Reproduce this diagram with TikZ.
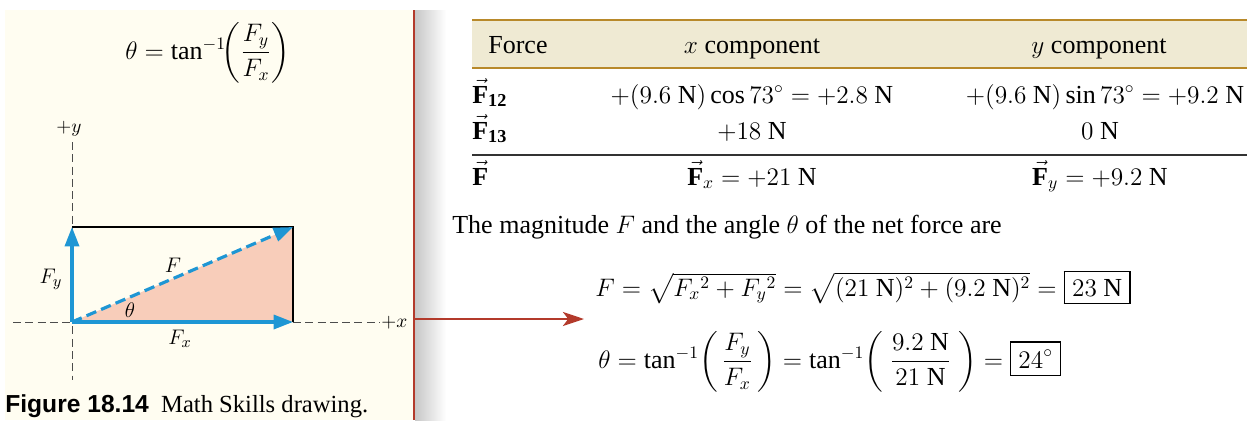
\documentclass[tikz,border=0pt]{standalone}
\usepackage{amsmath}
\usepackage{fontspec}
\setmainfont{Liberation Serif}
\newfontfamily\capfont{Liberation Sans}
\usetikzlibrary{positioning,arrows.meta}

\definecolor{panelcream}{HTML}{FFFDF1}
\definecolor{dividerred}{HTML}{B33A2B}
\definecolor{vecblue}{HTML}{1E96D4}
\definecolor{trianglepink}{HTML}{F8CDBA}
\definecolor{headbeige}{HTML}{EFEAD3}
\definecolor{headgold}{HTML}{B8892A}

\newcommand{\vF}{\vec{\mathbf{F}}}
\newcommand{\unitN}{\ \mathrm{N}}

\tikzset{
  every node/.style={font=\fontsize{14.8}{17.5}\selectfont, inner sep=0pt},
  vecarrow/.style={vecblue, line width=1.8pt, -{Triangle[length=11pt,width=8pt]}},
  axisline/.style={black!70, line width=0.5pt, dash pattern=on 4.5pt off 2.5pt},
  cell/.style={anchor=base},
  goldrule/.style={headgold, line width=1.4pt},
  smalllbl/.style={font=\fontsize{13}{15}\selectfont},
}

\begin{document}
\begin{tikzpicture}[x=0.02cm, y=-0.02cm, line cap=butt, line join=miter]
\useasboundingbox (0,0) rectangle (1252,420);

% left panel and divider
\fill[panelcream] (5,10) rectangle (413,420);
\shade[left color=black!22, right color=white] (415,10) rectangle (446,420);
\draw[dividerred, line width=1.7pt] (414,10) -- (414,420);

% formula on top of the panel
\node[anchor=base west] (topEqn) at (125,59)
  {$\theta = \tan^{-1}\!\biggl(\dfrac{F_y}{F_x}\biggr)$};

% vector drawing
\coordinate (O) at (72,322);
\coordinate (Px) at (293,322);
\coordinate (Py) at (72,227);
\coordinate (P) at (293,227);

\fill[trianglepink] (O) -- (Px) -- (P) -- cycle;
\draw[black, line width=0.6pt] (Py) -- (P) -- (Px);

% axes
\draw[axisline] (72,142) -- (72,380);
\draw[axisline] (13,322) -- (O);
\draw[axisline] (Px) -- (380,322);
\node (lblPlusY) at (69,129) {\fontsize{11}{13}\selectfont $+y$};
\node[anchor=west] (lblPlusX) at (381,323) {\fontsize{11}{13}\selectfont $+x$};

% components and resultant
\draw[vecarrow] (O) -- (Py);
\draw[vecarrow] (O) -- (Px);
\draw[vecarrow, dash pattern=on 6pt off 3pt] (O) -- (P);

\node[smalllbl] (lblFy) at (51,279) {$F_y$};
\node[smalllbl] (lblF) at (173,265) {$F$};
\node[smalllbl] (lblTheta) at (130,310) {$\theta$};
\node[smalllbl] (lblFx) at (180,339) {$F_x$};

% caption
\node[anchor=base west, font=\fontsize{14}{16}\selectfont] (caption) at (5,412)
  {{\capfont\bfseries Figure 18.14}\enspace Math Skills drawing.};

% table header
\fill[headbeige] (472,20) rectangle (1247,68);
\draw[goldrule] (472,20) -- (1247,20);
\draw[goldrule] (472,68) -- (1247,68);
\node[cell, anchor=base west] (hdrForce) at (488,53) {Force};
\node[cell] (hdrX) at (752,53) {$x$ component};
\node[cell] (hdrY) at (1099,53) {$y$ component};

% table rows
\node[cell, anchor=base west] (rowAlbl) at (472,103) {$\vF_{\mathbf{12}}$};
\node[cell] (rowAx) at (752,103) {$+(9.6\unitN)\cos 73^\circ = +2.8\unitN$};
\node[cell] (rowAy) at (1105,103) {$+(9.6\unitN)\sin 73^\circ = +9.2\unitN$};

\node[cell, anchor=base west] (rowBlbl) at (472,139) {$\vF_{\mathbf{13}}$};
\node[cell] (rowBx) at (752,139) {$+18\unitN$};
\node[cell] (rowBy) at (1100,139) {$0\unitN$};

\draw[black!80, line width=0.8pt] (472,155) -- (1247,155);

\node[cell, anchor=base west] (netLbl) at (472,185) {$\vF$};
\node[cell] (netX) at (752,185) {$\vF_x = +21\unitN$};
\node[cell] (netY) at (1100,185) {$\vF_y = +9.2\unitN$};

% text and results
\node[anchor=base west] (txtMag) at (452,233)
  {The magnitude $F$ and the angle $\theta$ of the net force are};

\setlength{\fboxsep}{4pt}
\setlength{\fboxrule}{0.8pt}
\node[anchor=base west] (eqnF) at (595,296)
  {$F = \sqrt{F_x{}^2 + F_y{}^2} = \sqrt{(21\unitN)^2 + (9.2\unitN)^2} = \boxed{23\unitN}$};
\node[anchor=base west] (eqnTheta) at (598,368)
  {$\theta = \tan^{-1}\!\left(\,\dfrac{F_y}{F_x}\,\right) = \tan^{-1}\!\left(\;\dfrac{9.2\unitN}{21\unitN}\;\right) = \boxed{24^\circ}$};

% pointer from the drawing to the results
\coordinate (arrStart) at (415,319);
\coordinate (arrEnd) at (584,319);
\draw[dividerred, line width=1.2pt, -{Stealth[length=12pt,width=8pt,inset=3pt]}] (arrStart) -- (arrEnd);
\end{tikzpicture}
\end{document}
